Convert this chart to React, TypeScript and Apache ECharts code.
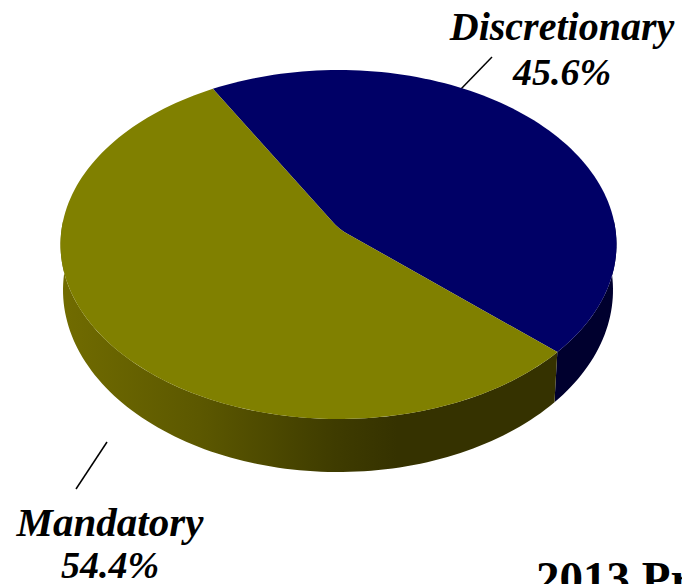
import React, { useEffect, useRef } from "react";
import * as echarts from "echarts";

const categories = ["Discretionary", "Mandatory"];
const shares = [45.6, 54.4];
const topColors = ["#000066", "#808000"];

const W = 682, H = 584;
const top = { cx: 338.5, cy: 244.5, rx: 278, ry: 174.5 };
const bottom = { cx: 338, cy: 290, rx: 275, ry: 182 };
const apex = { x: 339, y: 229 };
const rimOrigin = { x: 337, y: 220.6 };
const startDeg = -120.6;
const visLo = -8, visHi = 188;
const rad = Math.PI / 180;

const ell = (e: any, t: number) => [e.cx + e.rx * Math.cos(t * rad), e.cy + e.ry * Math.sin(t * rad)];

// where a ray leaving the perspective origin meets the rim; returns the rim's parametric angle
function rimAngle(rayDeg: number) {
  const ox = (rimOrigin.x - top.cx) / top.rx, oy = (rimOrigin.y - top.cy) / top.ry;
  const dx = Math.cos(rayDeg * rad), dy = Math.sin(rayDeg * rad);
  const b = ox * dx + oy * dy;
  const s = -b + Math.sqrt(b * b + 1 - ox * ox - oy * oy);
  return Math.atan2(oy + s * dy, ox + s * dx) / rad;
}

function arc(e: any, a: number, b: number) {
  const n = Math.max(2, Math.ceil(Math.abs(b - a) / 1.5));
  const pts: number[][] = [];
  for (let i = 0; i <= n; i++) pts.push(ell(e, a + ((b - a) * i) / n));
  return pts;
}

// softened corner where a slice's two edges meet (from the edge ending at p to the edge starting at q)
function softCorner(p: number[], q: number[], r = 9) {
  const toward = (o: number[]) => {
    const dx = o[0] - apex.x, dy = o[1] - apex.y, l = Math.hypot(dx, dy);
    return [apex.x + (dx / l) * r, apex.y + (dy / l) * r];
  };
  const a = toward(p), b = toward(q);
  const pts: number[][] = [];
  for (let i = 0; i <= 6; i++) {
    const u = i / 6, v = 1 - u;
    pts.push([
      v * v * a[0] + 2 * u * v * apex.x + u * u * b[0],
      v * v * a[1] + 2 * u * v * apex.y + u * u * b[1],
    ]);
  }
  return pts;
}

function sideFill(i: number) {
  if (i === 0) return "#00002e";
  return new echarts.graphic.LinearGradient(60, 0, 556, 0, [
    { offset: 0, color: "#716c00" },
    { offset: 0.28, color: "#5c5800" },
    { offset: 0.55, color: "#3f3c00" },
    { offset: 0.68, color: "#353200" },
    { offset: 1, color: "#353200" },
  ], true);
}

function renderSlice(params: any, api: any) {
  const i = params.dataIndex;
  const before = shares.slice(0, i).reduce((a, b) => a + b, 0);
  const total = shares.reduce((a, b) => a + b, 0);
  const ray0 = startDeg + (before / total) * 360;
  const ray1 = ray0 + (api.value(0) / total) * 360;
  let t0 = rimAngle(ray0), t1 = rimAngle(ray1);
  while (t1 < t0) t1 += 360;
  const children: any[] = [];
  const lo = Math.max(t0, visLo), hi = Math.min(t1, visHi);
  if (hi > lo) {
    children.push({
      type: "polygon",
      shape: { points: [...arc(top, lo, hi), ...arc(bottom, hi, lo)] },
      style: { fill: sideFill(i), stroke: null },
    });
  }
  const rim = arc(top, t0, t1);
  children.push({
    type: "polygon",
    shape: { points: [...softCorner(rim[rim.length - 1], rim[0]), ...rim] },
    style: { fill: topColors[i], stroke: null },
  });
  return { type: "group", children };
}

const leaderLines = [
  [492, 57, 460, 90],
  [107, 442, 76, 489],
];
const labelFont = { fontFamily: "'Liberation Serif', serif", fontWeight: "bold", fill: "#000" };

export default function App() {
  const ref = useRef<HTMLDivElement>(null);
  useEffect(() => {
    document.body.style.margin = "0";
    document.body.style.overflow = "hidden";
    const chart = echarts.init(ref.current!, null, { renderer: "svg" });
    const text = (s: string, x: number, y: number, size: number, italic: boolean, align = "center") => ({
      type: "text",
      x,
      y,
      style: { ...labelFont, text: s, fontSize: size, fontStyle: italic ? "italic" : "normal", textAlign: align, textVerticalAlign: "bottom" },
    });
    chart.setOption({
      animation: false,
      backgroundColor: "#fff",
      series: [
        {
          type: "custom",
          coordinateSystem: "none",
          renderItem: renderSlice,
          data: shares.map((v, i) => ({ name: categories[i], value: [v] })),
          silent: true,
          clip: false,
        },
      ],
      graphic: [
        ...leaderLines.map((l) => ({
          type: "line",
          shape: { x1: l[0], y1: l[1], x2: l[2], y2: l[3] },
          style: { stroke: "#000", lineWidth: 1.5 },
        })),
        text(categories[0], 562, 46, 40, true),
        text(`${shares[0].toFixed(1)}%`, 562, 91, 38, true),
        text(categories[1], 110, 542, 41, true),
        text(`${shares[1].toFixed(1)}%`, 110, 584, 38, true),
        text("2013 Pr", 536, 601, 47, false, "left"),
      ],
    });
    return () => chart.dispose();
  }, []);
  return <div ref={ref} style={{ width: W, height: H, overflow: "hidden" }} />;
}
